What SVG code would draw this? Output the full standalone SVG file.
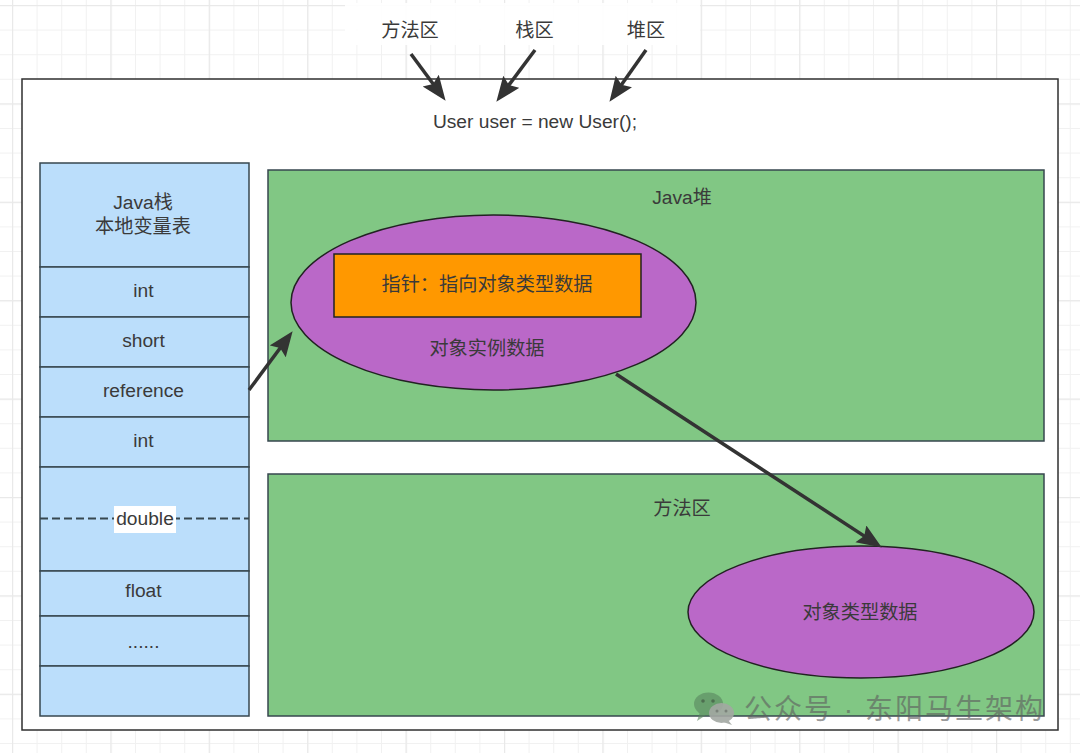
<svg xmlns="http://www.w3.org/2000/svg" width="1080" height="753" viewBox="0 0 1080 753">
<defs>
<pattern id="grid" width="24.6" height="24.6" patternUnits="userSpaceOnUse" x="12" y="5">
<path d="M0.5 0V24.6M0 0.5H24.6" fill="none" stroke="#f1f1f1" stroke-width="1"/>
</pattern>
<pattern id="grid2" width="98.4" height="98.4" patternUnits="userSpaceOnUse" x="12" y="5">
<path d="M0.5 0V98.4M0 0.5H98.4" fill="none" stroke="#e9e9e9" stroke-width="1.5"/>
</pattern>
<marker id="arrow" markerUnits="userSpaceOnUse" markerWidth="26" markerHeight="22" refX="6" refY="10" orient="auto">
<path d="M0 0L25 10L0 20L4 10Z" fill="#333"/>
</marker>
</defs>
<style>
text{font-family:"Liberation Sans","Noto Sans CJK SC",sans-serif;font-size:19.2px;fill:#3a3a3a;text-anchor:middle}
.cell{fill:#bbdefb;stroke:#37474f;stroke-width:1.5}
.green{fill:#81c784;stroke:#37474f;stroke-width:1.5}
.purple{fill:#ba68c8;stroke:#222;stroke-width:1.5}
.arr{fill:none;stroke:#333;stroke-width:3.5;marker-end:url(#arrow)}
</style>
<rect width="1080" height="753" fill="#fff"/>
<rect width="1080" height="753" fill="url(#grid)"/>
<rect width="1080" height="753" fill="url(#grid2)"/>
<rect x="345" y="3" width="355" height="42" fill="#fff" opacity=".9"/>
<g id="outer"><rect x="22" y="79" width="1036" height="651" fill="#fff" stroke="#2f2f2f" stroke-width="1.5"/></g>
<g id="code"><text x="535" y="128">User user = new User();</text></g>
<g id="label-method"><text x="410" y="37">方法区</text></g>
<g id="label-stack"><text x="534.500" y="37">栈区</text></g>
<g id="label-heap"><text x="646" y="37">堆区</text></g>
<g id="stack">
<rect class="cell" x="40" y="163" width="209" height="104"/>
<text x="143" y="209">Java栈</text><text x="143" y="233">本地变量表</text>
<rect class="cell" x="40" y="267" width="209" height="50"/><text x="143.500" y="297">int</text>
<rect class="cell" x="40" y="317" width="209" height="50"/><text x="143.500" y="347">short</text>
<rect class="cell" x="40" y="367" width="209" height="50"/><text x="143.500" y="397">reference</text>
<rect class="cell" x="40" y="417" width="209" height="50"/><text x="143.500" y="447">int</text>
<rect class="cell" x="40" y="467" width="209" height="104"/>
<path d="M40 518.500H249" fill="none" stroke="#37474f" stroke-width="2" stroke-dasharray="8 4"/>
<rect x="114" y="506" width="62" height="27" fill="#fff"/><text x="145" y="525">double</text>
<rect class="cell" x="40" y="571" width="209" height="45"/><text x="143.500" y="597">float</text>
<rect class="cell" x="40" y="616" width="209" height="50"/><text x="143.500" y="648">......</text>
<rect class="cell" x="40" y="666" width="209" height="50"/>
</g>
<g id="heap">
<rect class="green" x="268" y="170" width="776" height="271"/><text x="682" y="204">Java堆</text>
</g>
<g id="method-area">
<rect class="green" x="268" y="474" width="776" height="242"/><text x="682" y="515">方法区</text>
</g>
<g id="instance">
<ellipse class="purple" cx="493.500" cy="302.500" rx="202.500" ry="87.500"/>
<text x="487" y="355">对象实例数据</text>
</g>
<g id="pointer">
<rect x="334" y="254" width="307" height="63" fill="#ff9800" stroke="#222" stroke-width="1.5"/>
<text x="487" y="291">指针：指向对象类型数据</text>
</g>
<g id="type-data">
<ellipse class="purple" cx="861" cy="612" rx="173" ry="66"/>
<text x="860" y="619">对象类型数据</text>
</g>
<g id="connectors">
<path class="arr" d="M411 54L434.300 85.500"/>
<path class="arr" d="M535 50L507.700 86.600"/>
<path class="arr" d="M646 50L620.400 86.300"/>
<path class="arr" d="M249 390L281.300 346.500"/>
<path class="arr" d="M616 374L865.900 537.100"/>
</g>
<g id="watermark">
<g opacity=".62">
<ellipse cx="708.500" cy="704" rx="14.500" ry="11.500" fill="#5a8760"/>
<path d="M700 712l-3 9 9-6z" fill="#5a8760"/>
</g>
<g opacity=".9">
<ellipse cx="721.500" cy="713" rx="12.500" ry="10" fill="#a3a8a3"/>
<path d="M728 720l4 5-9-3z" fill="#a3a8a3"/>
</g>
<circle cx="703" cy="701" r="1.800" fill="#4d6e50"/><circle cx="713" cy="701" r="1.800" fill="#4d6e50"/>
<circle cx="717" cy="711" r="1.500" fill="#7a827a"/><circle cx="726" cy="711" r="1.500" fill="#7a827a"/>
<text x="894.500" y="719" opacity=".62" style="font-size:28px;fill:#5f5f5f;letter-spacing:2px">公众号 · 东阳马生架构</text>
</g>
</svg>
